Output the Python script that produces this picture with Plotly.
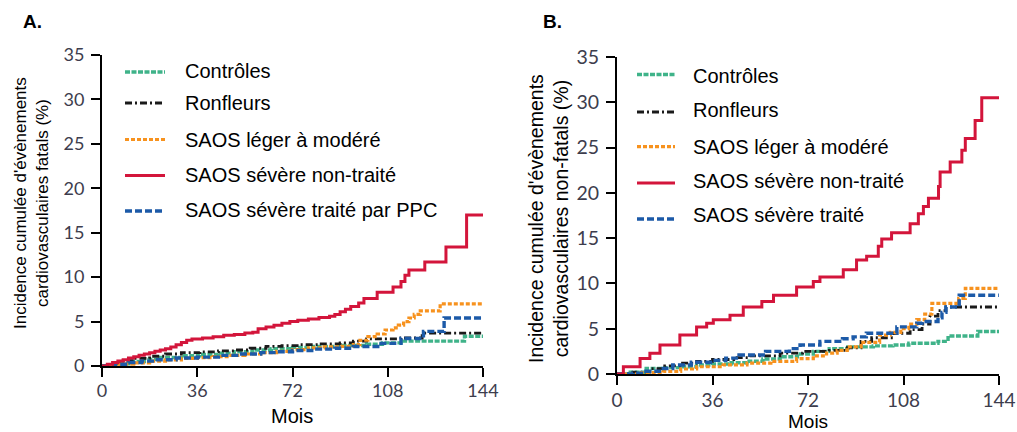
import plotly.graph_objects as go

W, H = 1017, 432

# ---------------- DATA ----------------
ticks_x = [0, 36, 72, 108, 144]
ticks_y = [0, 5, 10, 15, 20, 25, 30, 35]

labels_A = ["Contrôles", "Ronfleurs", "SAOS léger à modéré",
            "SAOS sévère non-traité", "SAOS sévère traité par PPC"]
labels_B = ["Contrôles", "Ronfleurs", "SAOS léger à modéré",
            "SAOS sévère non-traité", "SAOS sévère traité"]

# Panel A (fatal events)
A_ctrl_m = [0, 5, 10, 16, 22, 30, 37, 44, 50, 57, 64, 72, 80, 90, 100, 106, 113, 137, 144]
A_ctrl_v = [0, 0.25, 0.5, 0.75, 0.95, 1.15, 1.3, 1.45, 1.6, 1.8, 1.95, 2.1, 2.2, 2.3, 2.45, 2.6, 2.8, 3.35, 3.35]

A_ronf_m = [0, 4, 8, 12, 18, 24, 30, 37, 44, 50, 56, 62, 68, 75, 82, 90, 95, 100, 113, 121, 144]
A_ronf_v = [0, 0.3, 0.6, 0.85, 1.1, 1.35, 1.5, 1.6, 1.7, 1.8, 2.0, 2.2, 2.3, 2.4, 2.5, 2.6, 2.8, 3.05, 3.15, 3.7, 3.7]

A_leger_m = [0, 6, 12, 18, 24, 30, 36, 42, 48, 54, 60, 66, 72, 78, 84, 90, 95, 97.5, 100.5, 104, 107, 110, 112, 114, 116, 118, 120.3, 127.8, 144]
A_leger_v = [0, 0.2, 0.35, 0.55, 0.7, 0.85, 0.95, 1.05, 1.2, 1.35, 1.5, 1.65, 1.85, 2.05, 2.15, 2.2, 2.4, 2.9, 3.3, 3.6, 4.05, 4.3, 4.6, 5.0, 5.4, 5.8, 6.2, 7.0, 7.0]

A_sev_m = [0, 2, 4, 6, 8, 10, 12, 14, 16, 18, 20, 22, 24, 26, 28, 30, 32, 34, 38, 42, 46, 50, 54, 57, 59, 62, 65, 68, 71, 74, 78, 82, 86, 88, 90, 92, 94, 97, 99, 104, 110, 113, 114.5, 116, 122, 130, 137.8, 144]
A_sev_v = [0, 0.2, 0.4, 0.55, 0.7, 0.9, 1.05, 1.2, 1.35, 1.5, 1.65, 1.8, 1.95, 2.15, 2.4, 2.65, 2.9, 3.05, 3.15, 3.3, 3.45, 3.55, 3.7, 3.8, 4.2, 4.4, 4.6, 4.8, 5.0, 5.15, 5.3, 5.45, 5.6, 5.8, 6.1, 6.4, 6.7, 7.1, 7.6, 8.3, 8.9, 9.5, 10.2, 10.8, 11.7, 13.4, 17.0, 17.0]

A_ppc_m = [0, 5, 10, 15, 20, 28, 36, 44, 52, 60, 66, 72, 80, 88, 95, 105.5, 113, 121.5, 129.3, 144]
A_ppc_v = [0, 0.2, 0.4, 0.55, 0.7, 0.9, 1.0, 1.2, 1.35, 1.5, 1.6, 1.75, 1.9, 2.0, 2.2, 2.55, 3.1, 3.9, 5.4, 5.4]

# Panel B (non-fatal events)
B_ctrl_m = [0, 5, 11, 18, 24, 30, 36, 43, 49, 55, 61.5, 68, 74, 80, 87, 96.6, 104, 110, 121, 124.8, 136, 144]
B_ctrl_v = [0, 0.2, 0.6, 0.7, 0.8, 1.0, 1.1, 1.25, 1.4, 1.65, 1.9, 2.2, 2.5, 2.8, 3.0, 3.1, 3.2, 3.4, 3.6, 4.2, 4.7, 4.7]

B_ronf_m = [0, 6, 12.4, 18, 23.7, 30, 36, 44, 50, 61.5, 70, 80, 86.8, 92, 96, 104, 110.5, 115, 118, 121, 124, 144]
B_ronf_v = [0, 0.2, 0.6, 0.9, 1.2, 1.4, 1.6, 1.8, 2.0, 2.3, 2.5, 2.6, 2.9, 3.6, 4.0, 4.5, 4.9, 5.5, 6.4, 7.0, 7.4, 7.4]

B_leger_m = [0, 8, 17.5, 24, 30, 40, 49, 58, 67.7, 74, 79, 83, 86.8, 92, 99, 103, 107, 110, 113, 116, 118.7, 128.8, 131.3, 144]
B_leger_v = [0, 0.15, 0.3, 0.55, 0.8, 1.0, 1.2, 1.4, 1.7, 2.0, 2.3, 2.6, 3.0, 3.5, 4.3, 4.6, 5.0, 5.5, 6.0, 6.6, 7.8, 8.35, 9.45, 9.45]

B_sev_m = [0, 2.4, 8.7, 12.4, 16.2, 23.7, 30, 33.8, 36.3, 42.6, 47.6, 54.6, 59, 67.7, 74, 76.5, 85.3, 90.3, 94.1, 98.5, 99.8, 103.5, 110.5, 113.6, 115.5, 117.4, 121.2, 121.8, 125.6, 130, 131.3, 135, 137.5, 144]
B_sev_v = [0, 0.8, 1.7, 2.3, 3.2, 4.3, 5.2, 5.6, 6.0, 6.5, 7.4, 8.0, 8.7, 9.6, 10.2, 10.7, 11.5, 12.6, 13.0, 14.1, 14.9, 15.6, 16.6, 17.7, 18.5, 19.4, 20.7, 22.3, 23.4, 24.7, 26.0, 28.0, 30.5, 30.5]

B_trt_m = [0, 6, 10, 16, 21, 28, 36, 41, 46, 56, 65, 69, 76.5, 85, 89, 94, 105.5, 113, 115, 121, 122.5, 124, 129, 144]
B_trt_v = [0, 0.1, 0.3, 0.6, 1.0, 1.3, 1.5, 1.75, 2.1, 2.5, 2.8, 3.2, 3.6, 3.9, 4.1, 4.5, 5.2, 5.6, 5.8, 6.2, 6.8, 7.4, 8.7, 8.7]

# ---------------- STYLES ----------------
GREEN, BLACK, ORANGE, RED, BLUE = "#3fb389", "#1a1a1a", "#f7921e", "#d3153b", "#1c5aa8"
styles = [
    dict(color=GREEN, width=3.4, dash="5px,1.5px"),
    dict(color=BLACK, width=2.8, dash="7px,3px,2px,3px"),
    dict(color=ORANGE, width=3.2, dash="4px,2px"),
    dict(color=RED, width=3.0, dash="solid"),
    dict(color=BLUE, width=3.4, dash="7px,3px"),
]

A_series = [(A_ctrl_m, A_ctrl_v), (A_ronf_m, A_ronf_v), (A_leger_m, A_leger_v),
            (A_sev_m, A_sev_v), (A_ppc_m, A_ppc_v)]
B_series = [(B_ctrl_m, B_ctrl_v), (B_ronf_m, B_ronf_v), (B_leger_m, B_leger_v),
            (B_sev_m, B_sev_v), (B_trt_m, B_trt_v)]

fig = go.Figure()
draw_order = [0, 1, 2, 4, 3]
for i in draw_order:
    m, v = A_series[i]
    fig.add_trace(go.Scatter(x=m, y=v, mode="lines", line=dict(shape="hv", **styles[i]),
                             name=labels_A[i], xaxis="x", yaxis="y", showlegend=False,
                             hoverinfo="skip"))
for i in draw_order:
    m, v = B_series[i]
    fig.add_trace(go.Scatter(x=m, y=v, mode="lines", line=dict(shape="hv", **styles[i]),
                             name=labels_B[i], xaxis="x2", yaxis="y2", showlegend=False,
                             hoverinfo="skip"))

def px(xp):
    return xp / W

def py(yp):
    return 1 - yp / H

TICKFONT = dict(family="Lato, DejaVu Sans", size=18, color="#3d3d4d")
TEXTFONT = "Liberation Sans, Arial, sans-serif"

axis_common = dict(showline=True, linewidth=2, linecolor="black", ticks="outside",
                   ticklen=9, tickwidth=2, tickcolor="black", showgrid=False,
                   zeroline=False, automargin=False)

fig.update_layout(
    width=W, height=H, margin=dict(l=0, r=0, t=0, b=0),
    plot_bgcolor="white", paper_bgcolor="white",
    xaxis=dict(domain=[px(102), px(483)], range=[0, 144], tickvals=ticks_x,
               anchor="y", tickfont=TICKFONT, ticklabelstandoff=-2, **axis_common),
    yaxis=dict(domain=[py(366), py(55)], range=[0, 35], tickvals=ticks_y,
               anchor="x", tickfont=TICKFONT, ticklabelstandoff=3, **axis_common),
    xaxis2=dict(domain=[px(617), px(999)], range=[0, 144], tickvals=ticks_x,
                anchor="y2", tickfont=dict(TICKFONT, size=19), ticklabelstandoff=-1, **axis_common),
    yaxis2=dict(domain=[py(374), py(57)], range=[0, 35], tickvals=ticks_y,
                anchor="x2", tickfont=dict(TICKFONT, size=19.5), ticklabelstandoff=3, **axis_common),
)

annotations = []
shapes = []

def add_text(x, y, text, size, bold=False, angle=0, xanchor="center", align="center"):
    annotations.append(dict(
        x=px(x), y=py(y), xref="paper", yref="paper", text=(f"<b>{text}</b>" if bold else text),
        showarrow=False, textangle=angle, xanchor=xanchor, yanchor="middle", align=align,
        font=dict(family=TEXTFONT, size=size, color="black")))

# panel labels
add_text(32, 21, "A.", 19, bold=True)
add_text(552, 21, "B.", 19, bold=True)

# y titles
add_text(31, 203, "Incidence cumulée d'évènements<br>cardiovasculaires fatals (%)", 17, angle=-90)
add_text(548, 219, "Incidence cumulée d'évènements<br>cardiovasculaires non-fatals (%)", 19.5, angle=-90)

# x titles
add_text(292, 416, "Mois", 20)
add_text(808, 421, "Mois", 19)

# legends (drawn manually)
legA_rows = [72, 103, 139.5, 175.5, 211]
legA_text = [71, 103, 140, 175, 209.5]
legB_rows = [74.5, 112, 146.7, 183, 219]
legB_text = [76, 109.5, 146.7, 181, 215]
for i in range(5):
    shapes.append(dict(type="line", xref="paper", yref="paper",
                       x0=px(125), x1=px(165), y0=py(legA_rows[i]), y1=py(legA_rows[i]),
                       line=styles[i]))
    add_text(183, legA_text[i], labels_A[i], 20, xanchor="left")
    shapes.append(dict(type="line", xref="paper", yref="paper",
                       x0=px(637), x1=px(675), y0=py(legB_rows[i]), y1=py(legB_rows[i]),
                       line=styles[i]))
    add_text(691, legB_text[i], labels_B[i], 20, xanchor="left")

fig.update_layout(annotations=annotations, shapes=shapes)

fig.write_html("out.html", config={"displayModeBar": False},
               post_script="document.body.style.margin='0';document.body.style.overflow='hidden';")
